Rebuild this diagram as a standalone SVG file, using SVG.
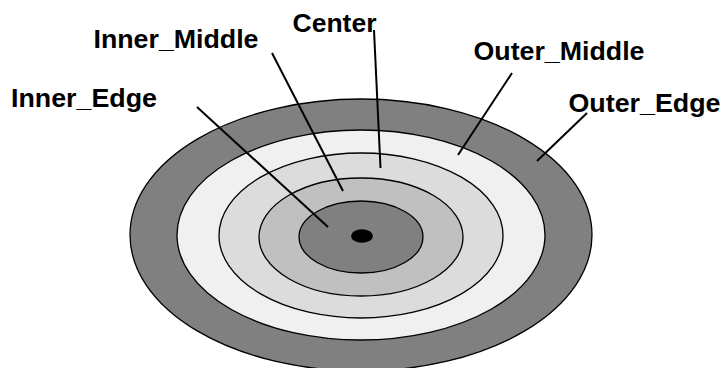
<svg xmlns="http://www.w3.org/2000/svg" width="723" height="368" viewBox="0 0 723 368">
  <style>
    .ring { stroke: #000; stroke-width: 1.3; }
    .lbl { font-family: "Liberation Sans", Arial, sans-serif; font-weight: bold; font-size: 25px; fill: #000; }
    .lead { stroke: #000; stroke-width: 2; fill: none; }
  </style>
  <rect width="723" height="368" fill="#fff"/>
  <g id="outer_edge_ring"><ellipse class="ring" cx="361" cy="235" rx="231" ry="136" fill="#808080"/></g>
  <g id="outer_middle_ring"><ellipse class="ring" cx="361" cy="235" rx="184" ry="105" fill="#f0f0f0"/></g>
  <g id="center_ring"><ellipse class="ring" cx="361" cy="235.5" rx="142" ry="82.5" fill="#dcdcdc"/></g>
  <g id="inner_middle_ring"><ellipse class="ring" cx="361" cy="237" rx="102" ry="59" fill="#c0c0c0"/></g>
  <g id="inner_edge_ring"><ellipse class="ring" cx="361" cy="237" rx="62" ry="36" fill="#808080"/></g>
  <g id="dot"><ellipse cx="362" cy="236" rx="11" ry="6.7" fill="#000"/></g>
  <g id="connectors">
    <line class="lead" x1="197" y1="107" x2="328" y2="227"/>
    <line class="lead" x1="272" y1="53" x2="343" y2="191"/>
    <line class="lead" x1="374" y1="30" x2="380.5" y2="168"/>
    <line class="lead" x1="512" y1="73" x2="458" y2="155"/>
    <line class="lead" x1="587" y1="113" x2="537" y2="161"/>
  </g>
  <g id="label_inner_edge"><text class="lbl" x="11" y="107" textLength="146" lengthAdjust="spacingAndGlyphs">Inner_Edge</text></g>
  <g id="label_inner_middle"><text class="lbl" x="93.5" y="48" textLength="165" lengthAdjust="spacingAndGlyphs">Inner_Middle</text></g>
  <g id="label_center"><text class="lbl" x="292.5" y="32" textLength="84" lengthAdjust="spacingAndGlyphs">Center</text></g>
  <g id="label_outer_middle"><text class="lbl" x="473.5" y="60" textLength="171" lengthAdjust="spacingAndGlyphs">Outer_Middle</text></g>
  <g id="label_outer_edge"><text class="lbl" x="568.5" y="112" textLength="152" lengthAdjust="spacingAndGlyphs">Outer_Edge</text></g>
</svg>
